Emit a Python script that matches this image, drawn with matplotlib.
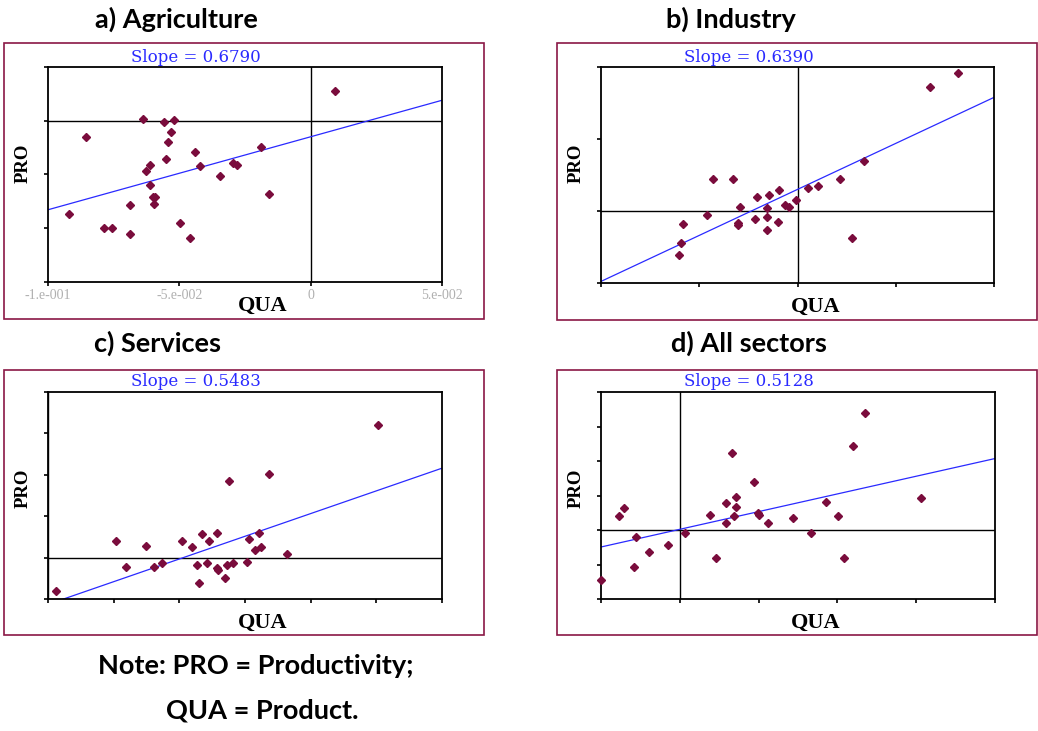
import numpy as np
import matplotlib.pyplot as plt
from matplotlib.patches import Rectangle

# a) Agriculture
agr_qua = [0.0093, -0.0856, -0.0640, -0.0559, -0.0521, -0.0533, -0.0542, -0.0442, -0.0550, -0.0610,
           -0.0628, -0.0422, -0.0344, -0.0294, -0.0282, -0.0190, -0.0157, -0.0610, -0.0592, -0.0597,
           -0.0687, -0.0919, -0.0786, -0.0755, -0.0687, -0.0497, -0.0458, -0.0602]
agr_pro = [0.0273, -0.0155, 0.0019, -0.0009, 0.0003, -0.0106, -0.0202, -0.0295, -0.0360, -0.0407,
           -0.0469, -0.0422, -0.0516, -0.0394, -0.0410, -0.0245, -0.0677, -0.0596, -0.0705, -0.0770,
           -0.0786, -0.0866, -0.0994, -0.0994, -0.1056, -0.0947, -0.1090, -0.0711]

# b) Industry
ind_qua = [0.0819, 0.0675, 0.0339, 0.0215, 0.0103, 0.0051, -0.0010, -0.0042, -0.0063, -0.0092,
           -0.0144, -0.0205, -0.0154, -0.0295, -0.0429, -0.0327, -0.0459, -0.0581, -0.0302, -0.0305,
           -0.0214, -0.0154, -0.0100, -0.0153, -0.0593, -0.0602, 0.0276]
ind_pro = [0.0958, 0.0862, 0.0350, 0.0220, 0.0173, 0.0159, 0.0077, 0.0030, 0.0042, 0.0147,
           0.0112, 0.0100, 0.0023, 0.0030, 0.0220, 0.0220, -0.0030, -0.0091, -0.0084, -0.0100,
           -0.0056, -0.0042, -0.0077, -0.0129, -0.0222, -0.0306, -0.0187]

# c) Services
ser_qua = [0.2509, 0.1683, 0.1375, 0.1284, 0.1174, 0.1223, 0.1019, 0.1098, 0.0516, 0.0745,
           0.1528, 0.1607, 0.1624, 0.1576, 0.1818, 0.1512, 0.1411, 0.1363, 0.1284, 0.1296,
           0.1207, 0.1131, 0.1347, 0.1146, 0.0869, 0.0808, 0.0592, 0.0058]
ser_pro = [0.1597, 0.1008, 0.0931, 0.0302, 0.0286, 0.0202, 0.0202, 0.0129, 0.0202, 0.0145,
           0.0222, 0.0302, 0.0129, 0.0089, 0.0048, -0.0052, -0.0069, -0.0089, -0.0121, -0.0149,
           -0.0069, -0.0089, -0.0250, -0.0306, -0.0069, -0.0109, -0.0109, -0.0403]

# d) All sectors
all_qua = [0.1174, 0.1097, 0.0331, 0.0472, 0.0358, 0.1530, 0.0930, 0.0292, 0.0358, -0.0356,
           -0.0383, 0.0193, 0.0496, 0.0502, 0.0341, 0.0292, 0.0561, 0.0716, 0.1006, 0.0036,
           0.0831, -0.0280, -0.0078, -0.0193, 0.0229, 0.1042, -0.0292, -0.0500]
all_pro = [0.1689, 0.1214, 0.1121, 0.0694, 0.0485, 0.0461, 0.0413, 0.0388, 0.0340, 0.0320,
           0.0199, 0.0223, 0.0248, 0.0223, 0.0199, 0.0102, 0.0102, 0.0175, 0.0199, -0.0039,
           -0.0039, -0.0107, -0.0223, -0.0316, -0.0413, -0.0413, -0.0529, -0.0718]

titles = ['a) Agriculture', 'b) Industry', 'c) Services', 'd) All sectors']
slopes = [0.6790, 0.6390, 0.5483, 0.5128]
intercepts = [-0.0149, 0.0150, -0.0565, 0.0010]
xlims = [(-0.1, 0.05), (-0.1, 0.1), (0.0, 0.3), (-0.05, 0.2)]
ylims = [(-0.15, 0.05), (-0.05, 0.1), (-0.05, 0.2), (-0.1, 0.2)]
agr_xtick_labels = ['-1.e-001', '-5.e-002', '0', '5.e-002']

MAROON = '#8a1846'
DOT = '#7a0c3c'
BLUE = '#2a2aff'


def main():
    W, H = 1038, 731
    fig = plt.figure(figsize=(W / 100, H / 100), dpi=100)

    # pixel boxes: axes (left, top, right, bottom), frame, title centre
    ax_px = [(48, 67, 442, 282), (601, 67, 994, 283), (48, 392, 442, 599), (601, 392, 995, 599)]
    frame_px = [(4, 43, 484, 319), (557, 43, 1037, 320), (4, 370, 484, 635), (557, 370, 1037, 635)]
    title_px = [(176, 19), (731, 19), (158, 343), (749, 343)]
    data = [(agr_qua, agr_pro), (ind_qua, ind_pro), (ser_qua, ser_pro), (all_qua, all_pro)]

    for i in range(4):
        fl, ft, fr, fb = frame_px[i]
        fig.patches.append(Rectangle((fl / W, 1 - fb / H), (fr - fl) / W, (fb - ft) / H,
                                     transform=fig.transFigure, fill=False,
                                     edgecolor=MAROON, linewidth=1.2))
        fig.text(title_px[i][0] / W, 1 - title_px[i][1] / H, titles[i], ha='center', va='center',
                 fontsize=19.5, fontweight='bold', family='Lato')

        l, t, r, b = ax_px[i]
        ax = fig.add_axes([l / W, 1 - b / H, (r - l) / W, (b - t) / H])
        qua, pro = data[i]
        x0, x1 = xlims[i]
        ax.set_xlim(x0, x1)
        ax.set_ylim(*ylims[i])
        ax.set_xticks(np.arange(x0, x1 + 1e-9, 0.05))
        ax.set_yticks(np.arange(ylims[i][0], ylims[i][1] + 1e-9, 0.05))
        ax.set_yticklabels([])
        if i == 0:
            ax.set_xticklabels(agr_xtick_labels, color='#b0b0b0', fontsize=10, family='Liberation Serif')
        else:
            ax.set_xticklabels([])
        ax.tick_params(direction='out', length=3, width=1.2, pad=2)
        for s in ax.spines.values():
            s.set_linewidth(1.3)

        ax.axhline(0, color='black', lw=1.0, zorder=1)
        ax.axvline(0, color='black', lw=1.0, zorder=1)

        xs = np.array([x0, x1])
        ax.plot(xs, slopes[i] * xs + intercepts[i], color=BLUE, lw=0.9, zorder=2)
        ax.plot(qua, pro, 'D', color=DOT, ms=4.4, mec=DOT, clip_on=False, zorder=3)

        ax.text(l / W + 83 / W, 1 - (t - 10) / H, f'Slope = {slopes[i]:.4f}', transform=fig.transFigure,
                color=BLUE, fontsize=12, family='DejaVu Serif', ha='left', va='center')
        ax.text(l / W - 25 / W, 1 - (t + 96) / H, 'PRO', transform=fig.transFigure, rotation=90,
                fontsize=13.5, fontweight='bold', family='Liberation Serif', ha='center', va='center')
        ax.text(l / W + 215 / W, 1 - (b + 24) / H, 'QUA', transform=fig.transFigure,
                fontsize=16, fontweight='bold', family='Liberation Serif', ha='center', va='center')

    fig.text(256 / W, 1 - 666 / H, 'Note: PRO = Productivity;', ha='center', va='center',
             fontsize=19.5, fontweight='bold', family='Lato')
    fig.text(262 / W, 1 - 711 / H, 'QUA = Product.', ha='center', va='center',
             fontsize=19.5, fontweight='bold', family='Lato')

    fig.savefig('out.png', dpi=100)


if __name__ == '__main__':
    main()
